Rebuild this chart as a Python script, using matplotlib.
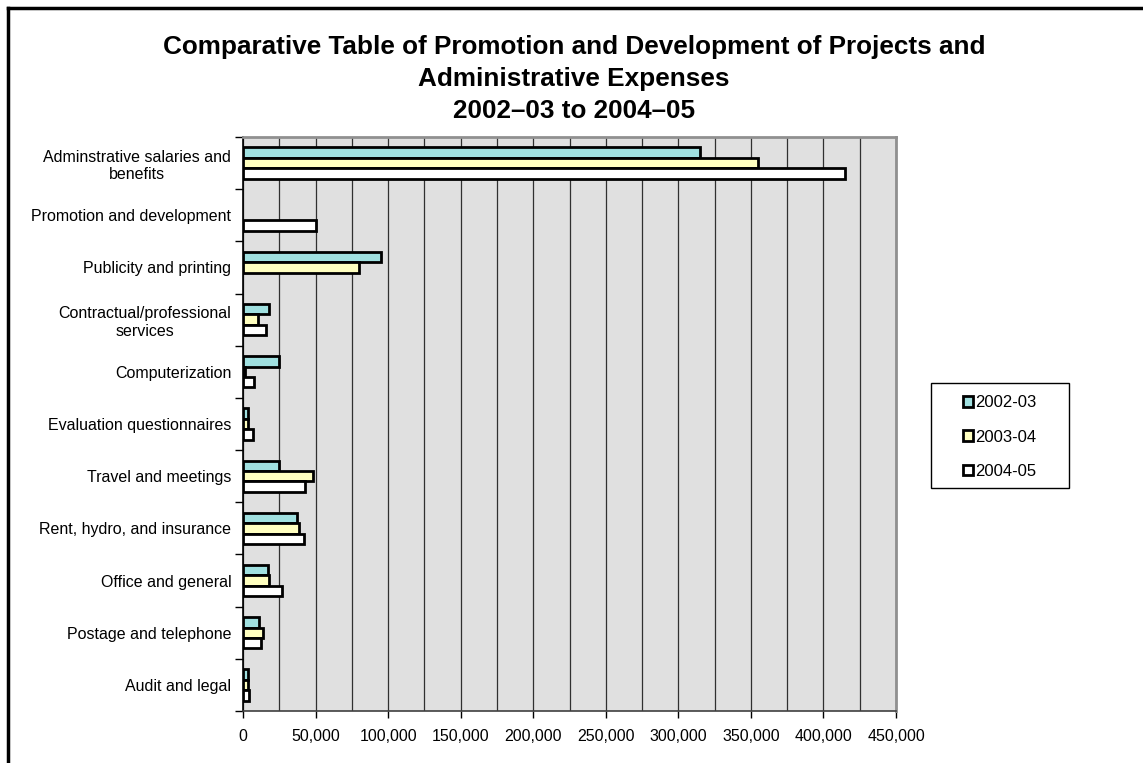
import matplotlib.pyplot as plt
import numpy as np
from matplotlib.patches import Patch, Rectangle
from matplotlib.lines import Line2D
from matplotlib.ticker import FuncFormatter, MultipleLocator, FixedLocator

plt.rcParams['font.family'] = ['Liberation Sans', 'DejaVu Sans']

categories = [
    'Adminstrative salaries and\nbenefits',
    'Promotion and development',
    'Publicity and printing',
    'Contractual/professional\nservices',
    'Computerization',
    'Evaluation questionnaires',
    'Travel and meetings',
    'Rent, hydro, and insurance',
    'Office and general',
    'Postage and telephone',
    'Audit and legal',
]
years = ['2002-03', '2003-04', '2004-05']
exp_2002 = [315000, 0, 95000, 18000, 25000, 3200, 24800, 37200, 17000, 11000, 3400]
exp_2003 = [355000, 0, 80000, 10300, 1600, 3400, 48400, 38300, 17600, 13800, 3400]
exp_2004 = [415000, 50000, 0, 15800, 7300, 6600, 42700, 41700, 26800, 12400, 4100]
colors = ['#A0E0E0', '#FFFFC0', '#FFFFFF']

W, H = 1143, 763
fig = plt.figure(figsize=(W / 100, H / 100), dpi=100)
ax = fig.add_axes([243 / W, 1 - 711 / H, (896 - 243) / W, (711 - 137) / H])
ax.set_facecolor('#E0E0E0')

y = np.arange(len(categories))
h = 0.2
for i, (vals, c) in enumerate(zip([exp_2002, exp_2003, exp_2004], colors)):
    # empty entries get no outline
    lw = [2 if v > 0 else 0 for v in vals]
    ax.barh(y + (i - 1) * h, vals, height=h, color=c, edgecolor='black',
            linewidth=lw, zorder=3, label=years[i])

ax.set_xlim(0, 450000)
ax.set_ylim(len(categories) - 0.5, -0.5)

# gridlines every 25,000, labels every 50,000
ax.xaxis.set_major_locator(MultipleLocator(50000))
ax.xaxis.set_minor_locator(MultipleLocator(25000))
ax.grid(axis='x', which='both', color='#303030', linewidth=0.9, zorder=1)
ax.xaxis.set_major_formatter(FuncFormatter(lambda v, p: f'{int(v):,}'))
ax.tick_params(axis='x', which='major', length=5, width=1, labelsize=11.5, pad=8)
ax.tick_params(axis='x', which='minor', length=0)

# category labels centered, tick marks at boundaries
ax.yaxis.set_major_locator(FixedLocator(y))
ax.set_yticklabels(categories, multialignment='center')
ax.yaxis.set_minor_locator(FixedLocator(np.arange(len(categories) + 1) - 0.5))
ax.tick_params(axis='y', which='major', length=0, labelsize=11.5, pad=8.5)
ax.tick_params(axis='y', which='minor', length=6, width=1)

ax.spines['left'].set_color('black')
ax.spines['left'].set_linewidth(1.2)
ax.spines['bottom'].set_color('#404040')
ax.spines['bottom'].set_linewidth(1.2)
for s in ['top', 'right']:
    ax.spines[s].set_color('#909090')
    ax.spines[s].set_linewidth(2)

fig.text(0.502, 1 - 79 / H, 'Comparative Table of Promotion and Development of Projects and\n'
         'Administrative Expenses\n2002\u201303 to 2004\u201305',
         ha='center', va='center', fontsize=18.8, fontweight='bold', linespacing=1.4)

# legend with a plain rectangular box
handles = [Patch(facecolor=c, edgecolor='black', linewidth=2) for c in colors]
fig.legend(handles, years, loc='center', bbox_to_anchor=(1000 / W, 1 - 437 / H),
           fontsize=12, frameon=False, handlelength=0.6, handleheight=0.6,
           handletextpad=0.15, labelspacing=1.15, borderpad=0, borderaxespad=0)
fig.add_artist(Rectangle((931 / W, 1 - 488 / H), 138 / W, 105 / H, transform=fig.transFigure,
                         facecolor='none', edgecolor='black', linewidth=1))

# outer frame
fig.add_artist(Line2D([8 / W, 8 / W], [0, 1 - 8 / H], color='black', linewidth=2.5))
fig.add_artist(Line2D([8 / W, 1], [1 - 8 / H, 1 - 8 / H], color='black', linewidth=2.5))

fig.savefig('out.png', dpi=100)
